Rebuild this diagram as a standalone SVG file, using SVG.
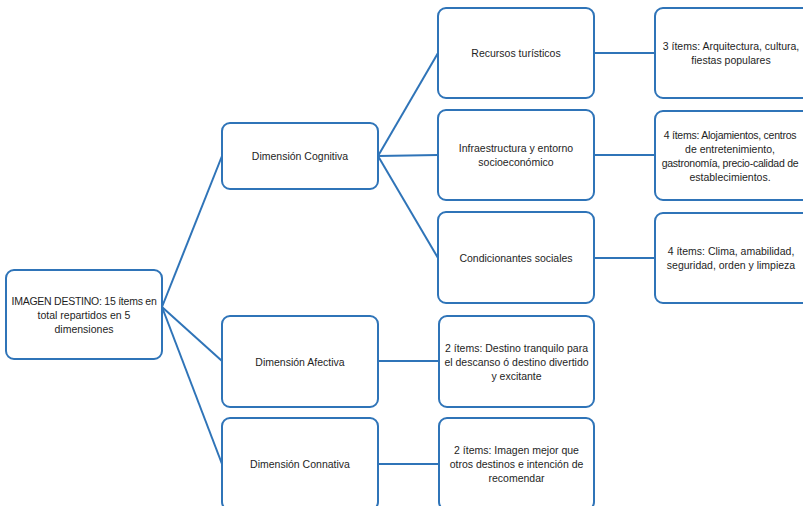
<svg xmlns="http://www.w3.org/2000/svg" width="803" height="506" viewBox="0 0 803 506">
<style>
.box{fill:#fff;stroke:#2f74b8;stroke-width:2}
.t{font-family:"Liberation Sans",Arial,sans-serif;font-size:10.5px;fill:#1e1e1e;text-anchor:middle;dominant-baseline:central}
.n{letter-spacing:-0.25px}
.c{fill:none;stroke:#2f74b8;stroke-width:2}
</style>
<rect width="803" height="506" fill="#fff"/>
<g id="connectors">
<line class="c" x1="162" y1="307" x2="222" y2="156"/>
<line class="c" x1="162" y1="307" x2="222" y2="361"/>
<line class="c" x1="162" y1="307" x2="222" y2="464"/>
<line class="c" x1="378" y1="156" x2="438" y2="53"/>
<line class="c" x1="378" y1="156" x2="438" y2="155"/>
<line class="c" x1="378" y1="156" x2="438" y2="258"/>
<line class="c" x1="594" y1="53" x2="655" y2="53"/>
<line class="c" x1="594" y1="155" x2="655" y2="155"/>
<line class="c" x1="594" y1="258" x2="655" y2="258"/>
<line class="c" x1="378" y1="361" x2="439" y2="361"/>
<line class="c" x1="378" y1="464" x2="439" y2="464"/>
</g>
<g id="root">
<rect class="box" x="6" y="270" width="156" height="89" rx="8"/>
<text class="t n" x="84" y="300.5">IMAGEN DESTINO: 15 ítems en</text>
<text class="t" x="84" y="314.5">total repartidos en 5</text>
<text class="t" x="84" y="328.5">dimensiones</text>
</g>
<g id="cognitiva">
<rect class="box" x="222" y="123" width="156" height="66" rx="8"/>
<text class="t" x="300" y="156">Dimensión Cognitiva</text>
</g>
<g id="afectiva">
<rect class="box" x="222" y="316" width="156" height="91" rx="8"/>
<text class="t" x="300" y="361.5">Dimensión Afectiva</text>
</g>
<g id="connativa">
<rect class="box" x="222" y="418" width="156" height="92" rx="8"/>
<text class="t" x="300" y="464">Dimensión Connativa</text>
</g>
<g id="recursos">
<rect class="box" x="438" y="8" width="156" height="90" rx="8"/>
<text class="t" x="516" y="53">Recursos turísticos</text>
</g>
<g id="infraestructura">
<rect class="box" x="438" y="110" width="156" height="90" rx="8"/>
<text class="t" x="516" y="148">Infraestructura y entorno</text>
<text class="t" x="516" y="162">socioeconómico</text>
</g>
<g id="condicionantes">
<rect class="box" x="438" y="212" width="156" height="91" rx="8"/>
<text class="t" x="516" y="257.5">Condicionantes sociales</text>
</g>
<g id="items-recursos">
<rect class="box" x="655" y="8" width="160" height="90" rx="8"/>
<text class="t" x="731" y="46">3 ítems: Arquitectura, cultura,</text>
<text class="t" x="731" y="60">fiestas populares</text>
</g>
<g id="items-infra">
<rect class="box" x="655" y="111" width="160" height="89" rx="8"/>
<text class="t n" x="730" y="134.5">4 ítems: Alojamientos, centros</text>
<text class="t" x="730" y="148.5">de entretenimiento,</text>
<text class="t n" x="730" y="162.5">gastronomía, precio-calidad de</text>
<text class="t" x="730" y="176.5">establecimientos.</text>
</g>
<g id="items-condicionantes">
<rect class="box" x="655" y="213" width="160" height="90" rx="8"/>
<text class="t" x="731" y="251">4 ítems: Clima, amabilidad,</text>
<text class="t" x="731" y="265">seguridad, orden y limpieza</text>
</g>
<g id="items-afectiva">
<rect class="box" x="439" y="316" width="155" height="91" rx="8"/>
<text class="t" x="516.5" y="347.5">2 ítems: Destino tranquilo para</text>
<text class="t" x="516.5" y="361.5">el descanso ó destino divertido</text>
<text class="t" x="516.5" y="375.5">y excitante</text>
</g>
<g id="items-connativa">
<rect class="box" x="439" y="418" width="155" height="92" rx="8"/>
<text class="t" x="516.5" y="450">2 ítems: Imagen mejor que</text>
<text class="t" x="516.5" y="464">otros destinos e intención de</text>
<text class="t" x="516.5" y="478">recomendar</text>
</g>
</svg>
